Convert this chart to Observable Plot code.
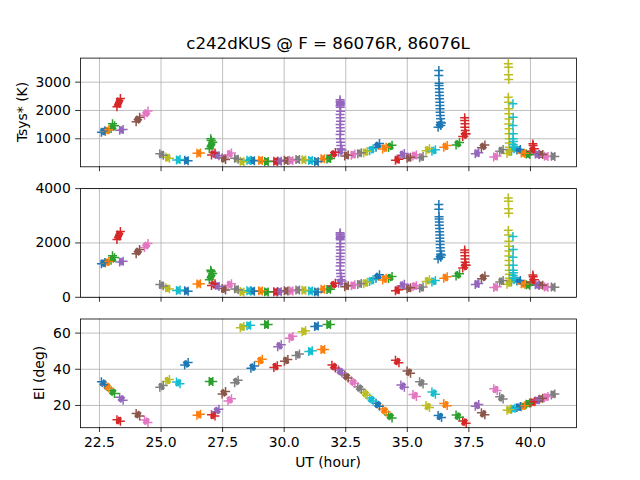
<!DOCTYPE html>
<html>
<head>
<meta charset="utf-8">
<script src="https://cdn.jsdelivr.net/npm/d3@7"></script>
<script src="https://cdn.jsdelivr.net/npm/@observablehq/plot@0.6"></script>
<style>
  body { margin: 0; background: white; }
  #chart { position: relative; width: 640px; height: 480px; background: white; overflow: hidden; }
  #chart svg { position: absolute; left: 0; }
</style>
</head>
<body>
<div id="chart"></div>
<script>
// ---------------- data ----------------
const xTicks = [22.5, 25.0, 27.5, 30.0, 32.5, 35.0, 37.5, 40.0];
const tsysTicksR = [1000, 2000, 3000];
const tsysTicksL = [0, 2000, 4000];
const elTicks = [20, 40, 60];

// one entry per scan (68 scans, colours cycle through tab10)
const scanStart = [
  22.58, 22.74, 22.97, 23.21, 23.32, 23.99, 24.33, 24.95, 25.20, 25.63,
  25.96, 26.46, 26.96, 27.05, 27.21, 27.48, 27.72, 27.99, 28.22, 28.49,
  28.65, 28.97, 29.21, 29.58, 29.74, 30.01, 30.21, 30.48, 30.73, 31.00,
  31.24, 31.50, 31.74, 31.94, 32.21, 32.46, 32.73, 32.99, 33.23, 33.47,
  33.73, 34.00, 34.24, 34.52, 34.74, 34.99, 35.23, 35.50, 35.76, 36.00,
  36.25, 36.48, 36.98, 37.25, 37.76, 38.01, 38.51, 38.75, 39.05, 39.23,
  39.45, 39.63, 39.83, 40.02, 40.20, 40.36, 40.57, 40.85];
const scanEnd = [
  22.72, 22.88, 23.11, 23.35, 23.46, 24.13, 24.47, 25.09, 25.34, 25.77,
  26.10, 26.60, 27.10, 27.19, 27.35, 27.62, 27.86, 28.13, 28.36, 28.63,
  28.79, 29.11, 29.35, 29.72, 29.88, 30.15, 30.35, 30.62, 30.87, 31.14,
  31.38, 31.64, 31.88, 32.08, 32.35, 32.60, 32.87, 33.13, 33.37, 33.61,
  33.87, 34.14, 34.38, 34.66, 34.88, 35.13, 35.37, 35.64, 35.90, 36.14,
  36.39, 36.62, 37.12, 37.39, 37.90, 38.15, 38.65, 38.89, 39.19, 39.37,
  39.59, 39.77, 39.97, 40.16, 40.34, 40.50, 40.71, 40.99];
const elStart = [
  33.1, 31.3, 28.2, 12.1, 24.5, 15.6, 12.0, 30.0, 33.3, 33.0,
  42.3, 14.6, 33.3, 14.9, 16.5, 26.3, 22.5, 32.6, 62.9, 64.0,
  40.6, 44.3, 64.7, 41.0, 52.4, 44.4, 57.2, 47.6, 60.7, 49.8,
  63.7, 50.9, 64.7, 42.3, 39.6, 36.8, 33.7, 30.4, 27.3, 24.1,
  21.2, 18.0, 14.7, 45.0, 31.3, 39.0, 26.1, 33.1, 20.0, 27.4,
  14.5, 21.1, 14.7, 11.4, 19.5, 16.0, 29.3, 24.8, 17.3, 17.9,
  18.8, 19.3, 20.7, 21.5, 22.5, 23.4, 24.3, 25.8];
const elEnd = [
  31.5, 29.7, 26.6, 11.3, 22.9, 14.2, 10.6, 31.0, 34.3, 32.0,
  43.7, 15.2, 33.3, 14.1, 17.9, 27.7, 23.7, 34.0, 63.7, 64.4,
  41.8, 45.5, 64.7, 42.0, 53.6, 45.4, 58.2, 48.4, 61.3, 50.2,
  63.9, 50.9, 64.7, 40.7, 38.0, 35.2, 32.1, 28.8, 25.7, 22.5,
  19.6, 16.4, 13.1, 43.6, 30.1, 37.8, 24.9, 31.9, 18.8, 26.2,
  13.3, 19.9, 13.5, 10.2, 20.5, 14.8, 28.3, 23.6, 17.9, 18.5,
  19.4, 19.9, 21.3, 22.1, 23.1, 24.0, 24.9, 26.4];
const tsysStart = [
  1230, 1260, 1360, 2130, 1300, 1600, 1830, 470, 350, 250,
  240, 490, 650, 430, 440, 320, 440, 310, 210, 240,
  240, 240, 200, 205, 215, 240, 240, 270, 260, 235,
  200, 293, 285, 420, 520, 390, 420, 470, 500, 580,
  700, 640, 690, 240, 420, 310, 390, 330, 580, 560,
  1410, 700, 780, 1080, 470, 680, 360, 560, 480, 560,
  600, 500, 460, 560, 460, 455, 380, 380];
const tsysEnd = [
  1280, 1320, 1460, 2420, 1330, 1760, 1980, 420, 310, 270,
  225, 495, 880, 500, 400, 270, 500, 280, 190, 230,
  225, 230, 195, 195, 205, 228, 228, 265, 255, 232,
  198, 293, 300, 520, 600, 430, 460, 510, 555, 645,
  830, 700, 770, 280, 480, 350, 430, 375, 645, 615,
  1560, 760, 870, 1180, 510, 780, 390, 620, 560, 700,
  620, 480, 440, 650, 440, 445, 370, 370];

// individual samples of scans whose Tsys spread out (spikes)
const spikeScan = [
  2,
  12, 12,
  34, 34, 34, 34, 34, 34, 34, 34, 34, 34, 34, 34, 34, 34, 34, 34, 34, 34, 34,
  50, 50, 50, 50, 50, 50, 50, 50, 50, 50, 50, 50, 50, 50, 50, 50,
  53, 53, 53, 53, 53, 53,
  58, 58, 58, 58, 58, 58, 58, 58, 58, 58, 58, 58, 58, 58, 58,
  59, 59, 59, 59, 59, 59, 59, 59,
  63, 63];
const spikeTime = [
  23.03,
  27.02, 27.04,
  32.27, 32.28, 32.27, 32.29, 32.28, 32.27, 32.28, 32.29, 32.27, 32.28, 32.29, 32.27, 32.28, 32.29, 32.27, 32.28, 32.29, 32.30, 32.30,
  36.28, 36.28, 36.29, 36.29, 36.30, 36.30, 36.31, 36.31, 36.32, 36.32, 36.33, 36.33, 36.34, 36.35, 36.35, 36.36,
  37.33, 37.33, 37.34, 37.34, 37.35, 37.36,
  39.10, 39.11, 39.11, 39.12, 39.10, 39.11, 39.12, 39.12, 39.13, 39.12, 39.13, 39.13, 39.14, 39.14, 39.14,
  39.29, 39.30, 39.29, 39.30, 39.30, 39.31, 39.30, 39.31,
  40.10, 40.11];
const spikeTsys = [
  1530,
  1000, 940,
  2378, 2330, 2293, 2250, 2212, 2170, 2117, 1976, 1859, 1742, 1622, 1505, 1389, 1270, 1152, 1000, 880, 763, 650,
  3413, 3237, 2965, 2883, 2767, 2647, 2530, 2413, 2293, 2177, 2060, 1940, 1823, 1707, 1587, 1470,
  1742, 1647, 1530, 1410, 1293, 1177,
  3650, 3530, 3261, 3095, 2470, 2293, 2060, 1880, 1700, 1520, 1350, 1180, 1000, 850, 700,
  2237, 1763, 1470, 1177, 1000, 900, 800, 700,
  820, 760];

// ---------------- styling ----------------
const tab10 = ["#1f77b4", "#ff7f0e", "#2ca02c", "#d62728", "#9467bd",
               "#8c564b", "#e377c2", "#7f7f7f", "#bcbd22", "#17becf"];
const GRID = "#b0b0b0";
const FONT = "'DejaVu Sans', sans-serif";
const xDomain = [21.73, 41.87];

const scans = scanStart.map((s, i) => ({
  i, t0: s, t1: scanEnd[i], el0: elStart[i], el1: elEnd[i], ts0: tsysStart[i], ts1: tsysEnd[i]
}));
const spikes = spikeScan.map((s, k) => ({ i: s, t: spikeTime[k], ts: spikeTsys[k] }));
const colorOf = d => tab10[d.i % 10];

function panel(o) {
  const marks = [
    Plot.gridX(xTicks, { stroke: GRID, strokeOpacity: 1, strokeWidth: 0.8 }),
    Plot.gridY(o.yTicks, { stroke: GRID, strokeOpacity: 1, strokeWidth: 0.8 }),
    Plot.link(scans, { x1: "t0", x2: "t1", y1: o.y0, y2: o.y1, stroke: colorOf, strokeWidth: 7 }),
    Plot.dot(scans, { x: "t0", y: o.y0, symbol: "plus", r: 3, stroke: colorOf, strokeWidth: 1.5 }),
    Plot.dot(scans, { x: "t1", y: o.y1, symbol: "plus", r: 3, stroke: colorOf, strokeWidth: 1.5 })
  ];
  if (o.spikes) {
    marks.push(Plot.dot(spikes, { x: "t", y: "ts", symbol: "plus", r: 3, stroke: colorOf, strokeWidth: 1.5 }));
  }
  marks.push(
    Plot.frame({ stroke: "black", strokeWidth: 0.8 }),
    Plot.axisX(xTicks, {
      label: null, tickSize: 4.86, tickPadding: 4.86, strokeWidth: 0.8,
      tickFormat: o.xLabels ? d3.format(".1f") : () => ""
    }),
    Plot.axisY(o.yTicks, {
      label: null, tickSize: 4.86, tickPadding: 4.86, strokeWidth: 0.8,
      tickFormat: d => String(d)
    })
  );
  const svg = Plot.plot({
    width: 640, height: o.height,
    marginLeft: 80, marginRight: 64, marginTop: o.mt, marginBottom: o.mb,
    x: { domain: xDomain, label: null },
    y: { domain: o.yDomain, label: null },
    color: { type: "identity" },
    style: { fontFamily: FONT, fontSize: "13.9px", color: "black", background: "transparent", overflow: "visible" },
    marks
  });
  svg.style.top = o.top + "px";
  return svg;
}

const chart = document.getElementById("chart");
chart.appendChild(panel({ top: 0, height: 180, mt: 57.6, mb: 13.7, yDomain: [10, 3850], yTicks: tsysTicksR, y0: "ts0", y1: "ts1", spikes: true, xLabels: false }));
chart.appendChild(panel({ top: 180, height: 130, mt: 8.1, mb: 13.2, yDomain: [0, 4000], yTicks: tsysTicksL, y0: "ts0", y1: "ts1", spikes: true, xLabels: false }));
chart.appendChild(panel({ top: 310, height: 170, mt: 8.5, mb: 52.8, yDomain: [7.7, 67.8], yTicks: elTicks, y0: "el0", y1: "el1", spikes: false, xLabels: true }));

// title and axis labels
const ns = "http://www.w3.org/2000/svg";
const overlay = document.createElementNS(ns, "svg");
overlay.setAttribute("width", 640);
overlay.setAttribute("height", 480);
overlay.style.top = "0px";
overlay.style.pointerEvents = "none";
overlay.style.fontFamily = FONT;
function addText(str, x, y, size, rotate) {
  const t = document.createElementNS(ns, "text");
  t.textContent = str;
  t.setAttribute("text-anchor", "middle");
  t.setAttribute("font-size", size);
  t.setAttribute("fill", "black");
  if (rotate) {
    t.setAttribute("transform", `translate(${x},${y}) rotate(-90)`);
  } else {
    t.setAttribute("x", x);
    t.setAttribute("y", y);
  }
  overlay.appendChild(t);
}
addText("c242dKUS @ F = 86076R, 86076L", 328, 49.3, "16.67px", false);
addText("Tsys* (K)", 27, 112, "13.9px", true);
addText("El (deg)", 44, 372.9, "13.9px", true);
addText("UT (hour)", 328, 467, "13.9px", false);
chart.appendChild(overlay);
</script>
</body>
</html>
